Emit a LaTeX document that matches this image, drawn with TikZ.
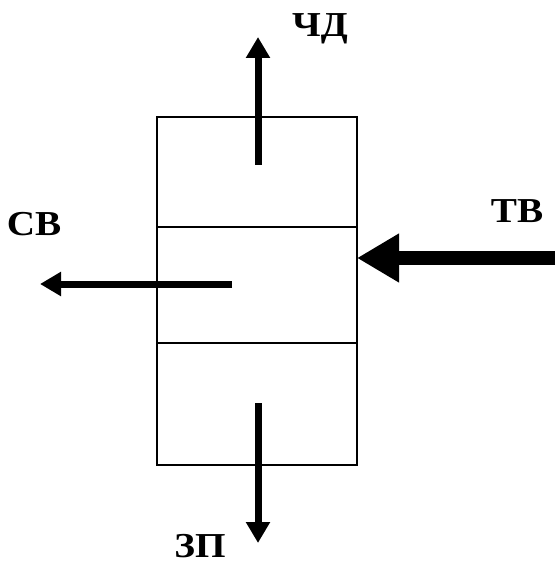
\documentclass[tikz,border=0pt]{standalone}
\usepackage{fontspec}
\setmainfont{Liberation Serif}
\usetikzlibrary{arrows.meta}
\begin{document}
\begin{tikzpicture}[x=1pt,y=-1pt,
  cell/.style={draw,line width=2.8pt,minimum width=200pt,inner sep=0pt,outer sep=0pt},
  lbl/.style={font=\fontsize{35}{40}\selectfont\bfseries,anchor=base,inner sep=0pt,xscale=1.12},
  flow/.style={line width=7pt,-{Triangle[length=21pt,width=23pt]}},
  bigflow/.style={line width=14pt,-{Triangle[length=42pt,width=46pt]}}]
\useasboundingbox (0,0) rectangle (555,564);
\node[cell,minimum height=110pt] (top) at (257,172) {};
\node[cell,minimum height=116pt] (mid) at (257,285) {};
\node[cell,minimum height=122pt] (bot) at (257,404) {};
\coordinate (upS) at (258,165);
\coordinate (upE) at (258,37);
\coordinate (lfS) at (232,284);
\coordinate (lfE) at (40,284);
\coordinate (rtS) at (555,258);
\coordinate (dnS) at (258,403);
\coordinate (dnE) at (258,543);
\draw[flow] (upS) -- (upE);
\draw[flow] (lfS) -- (lfE);
\draw[bigflow] (rtS) -- (mid.east |- rtS);
\draw[flow] (dnS) -- (dnE);
\node[lbl] (chd) at (320,37) {ЧД};
\node[lbl] (sv) at (34,235) {СВ};
\node[lbl] (tv) at (517,222) {ТВ};
\node[lbl] (zp) at (200,557) {ЗП};
\end{tikzpicture}
\end{document}
